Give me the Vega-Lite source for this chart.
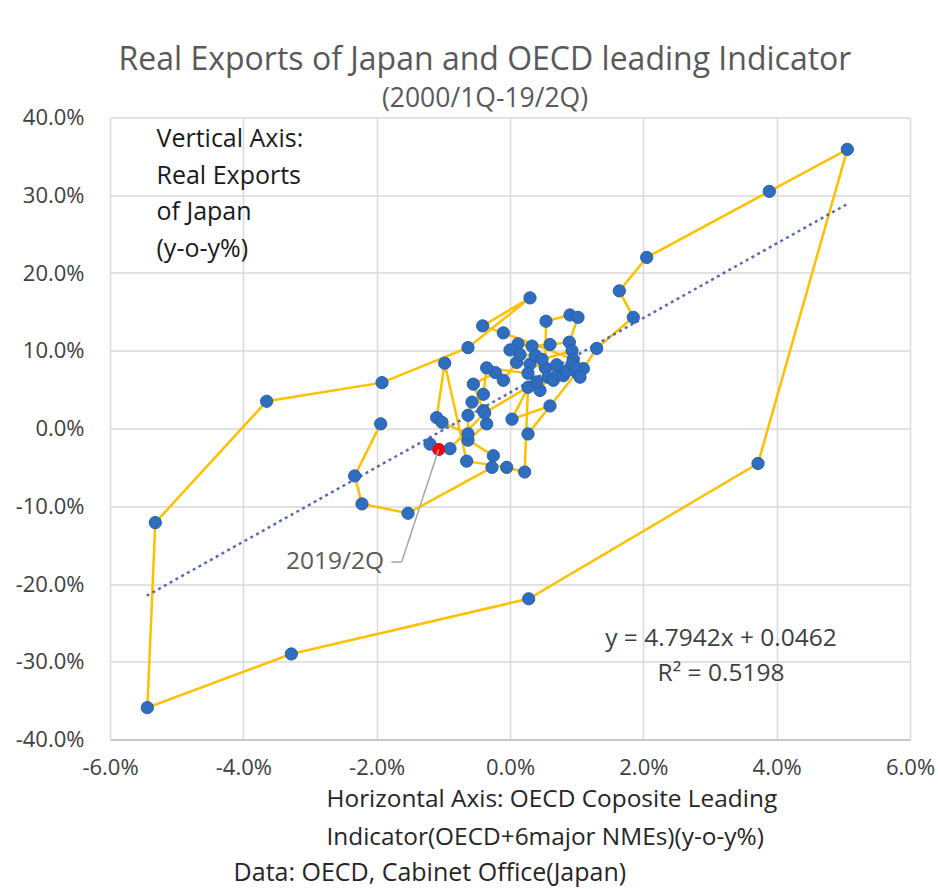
{
  "$schema": "https://vega.github.io/schema/vega-lite/v6.json",
  "width": 800,
  "height": 622,
  "autosize": {"type": "none"},
  "padding": {"left": 110, "top": 117.5, "right": 28, "bottom": 149.5},
  "background": "white",
  "config": {
    "view": {"stroke": null},
    "font": "Open Sans",
    "locale": {"number": {"decimal": ".", "thousands": ",", "grouping": [3], "currency": ["$", ""], "minus": "-"}}
  },
  "title": {
    "text": "Real Exports of Japan and OECD leading Indicator",
    "subtitle": "(2000/1Q-19/2Q)",
    "anchor": "middle",
    "frame": "group",
    "dx": -25,
    "offset": -7,
    "font": "Open Sans",
    "fontSize": 32,
    "fontWeight": "normal",
    "color": "#595959",
    "subtitleFont": "Open Sans",
    "subtitleFontSize": 26.5,
    "subtitleColor": "#595959",
    "subtitlePadding": 9
  },
  "datasets": {
    "quarters": [
      {"q": "2000Q1", "cli": -0.0194, "exports": 0.006},
      {"q": "2000Q2", "cli": -0.0233, "exports": -0.061},
      {"q": "2000Q3", "cli": -0.0222, "exports": -0.097},
      {"q": "2000Q4", "cli": -0.0153, "exports": -0.109},
      {"q": "2001Q1", "cli": -0.0027, "exports": -0.050},
      {"q": "2001Q2", "cli": -0.0025, "exports": -0.035},
      {"q": "2001Q3", "cli": -0.0063, "exports": -0.015},
      {"q": "2001Q4", "cli": -0.0035, "exports": 0.006},
      {"q": "2002Q1", "cli": -0.0040, "exports": 0.023},
      {"q": "2002Q2", "cli": -0.0055, "exports": 0.057},
      {"q": "2002Q3", "cli": -0.0022, "exports": 0.072},
      {"q": "2002Q4", "cli": -0.0010, "exports": 0.062},
      {"q": "2003Q1", "cli": 0.0010, "exports": 0.085},
      {"q": "2003Q2", "cli": 0.0030, "exports": 0.083},
      {"q": "2003Q3", "cli": 0.0053, "exports": 0.078},
      {"q": "2003Q4", "cli": 0.0054, "exports": 0.138},
      {"q": "2004Q1", "cli": 0.0090, "exports": 0.146},
      {"q": "2004Q2", "cli": 0.0102, "exports": 0.143},
      {"q": "2004Q3", "cli": 0.0089, "exports": 0.111},
      {"q": "2004Q4", "cli": 0.0060, "exports": 0.108},
      {"q": "2005Q1", "cli": 0.0033, "exports": 0.106},
      {"q": "2005Q2", "cli": 0.0012, "exports": 0.109},
      {"q": "2005Q3", "cli": 0.0000, "exports": 0.101},
      {"q": "2005Q4", "cli": 0.0015, "exports": 0.095},
      {"q": "2006Q1", "cli": 0.0038, "exports": 0.094},
      {"q": "2006Q2", "cli": 0.0048, "exports": 0.089},
      {"q": "2006Q3", "cli": 0.0093, "exports": 0.100},
      {"q": "2006Q4", "cli": 0.0095, "exports": 0.089},
      {"q": "2007Q1", "cli": -0.0010, "exports": 0.123},
      {"q": "2007Q2", "cli": -0.0041, "exports": 0.132},
      {"q": "2007Q3", "cli": 0.0030, "exports": 0.168},
      {"q": "2007Q4", "cli": -0.0063, "exports": 0.104},
      {"q": "2008Q1", "cli": -0.0192, "exports": 0.059},
      {"q": "2008Q2", "cli": -0.0365, "exports": 0.035},
      {"q": "2008Q3", "cli": -0.0532, "exports": -0.121},
      {"q": "2008Q4", "cli": -0.0544, "exports": -0.359},
      {"q": "2009Q1", "cli": -0.0328, "exports": -0.290},
      {"q": "2009Q2", "cli": 0.0028, "exports": -0.219},
      {"q": "2009Q3", "cli": 0.0372, "exports": -0.045},
      {"q": "2009Q4", "cli": 0.0506, "exports": 0.359},
      {"q": "2010Q1", "cli": 0.0389, "exports": 0.305},
      {"q": "2010Q2", "cli": 0.0205, "exports": 0.220},
      {"q": "2010Q3", "cli": 0.0164, "exports": 0.177},
      {"q": "2010Q4", "cli": 0.0185, "exports": 0.143},
      {"q": "2011Q1", "cli": 0.0130, "exports": 0.103},
      {"q": "2011Q2", "cli": 0.0110, "exports": 0.077},
      {"q": "2011Q3", "cli": 0.0100, "exports": 0.072},
      {"q": "2011Q4", "cli": 0.0027, "exports": -0.007},
      {"q": "2012Q1", "cli": 0.0060, "exports": 0.029},
      {"q": "2012Q2", "cli": 0.0003, "exports": 0.012},
      {"q": "2012Q3", "cli": 0.0027, "exports": 0.053},
      {"q": "2012Q4", "cli": 0.0022, "exports": -0.056},
      {"q": "2013Q1", "cli": -0.0005, "exports": -0.050},
      {"q": "2013Q2", "cli": -0.0065, "exports": -0.042},
      {"q": "2013Q3", "cli": -0.0098, "exports": 0.084},
      {"q": "2013Q4", "cli": -0.0110, "exports": 0.014},
      {"q": "2014Q1", "cli": -0.0102, "exports": 0.008},
      {"q": "2014Q2", "cli": -0.0063, "exports": -0.007},
      {"q": "2014Q3", "cli": -0.0063, "exports": 0.017},
      {"q": "2014Q4", "cli": -0.0057, "exports": 0.034},
      {"q": "2015Q1", "cli": -0.0040, "exports": 0.044},
      {"q": "2015Q2", "cli": -0.0035, "exports": 0.078},
      {"q": "2015Q3", "cli": 0.0027, "exports": 0.071},
      {"q": "2015Q4", "cli": 0.0045, "exports": 0.049},
      {"q": "2016Q1", "cli": 0.0057, "exports": 0.066},
      {"q": "2016Q2", "cli": 0.0065, "exports": 0.062},
      {"q": "2016Q3", "cli": 0.0072, "exports": 0.070},
      {"q": "2016Q4", "cli": 0.0080, "exports": 0.068},
      {"q": "2017Q1", "cli": 0.0085, "exports": 0.074},
      {"q": "2017Q2", "cli": 0.0093, "exports": 0.083},
      {"q": "2017Q3", "cli": 0.0098, "exports": 0.079},
      {"q": "2017Q4", "cli": 0.0105, "exports": 0.066},
      {"q": "2018Q1", "cli": 0.0070, "exports": 0.082},
      {"q": "2018Q2", "cli": 0.0040, "exports": 0.060},
      {"q": "2018Q3", "cli": -0.0038, "exports": 0.020},
      {"q": "2018Q4", "cli": -0.0090, "exports": -0.026},
      {"q": "2019Q1", "cli": -0.0120, "exports": -0.020},
      {"q": "2019Q2", "cli": -0.0107, "exports": -0.027}
    ],
    "trend": [
      {"cli": -0.0545, "exports": -0.2151},
      {"cli": 0.0505, "exports": 0.2883}
    ],
    "note": [{}]
  },
  "layer": [
    {
      "data": {"name": "quarters"},
      "mark": {"type": "line", "color": "#FFC000", "strokeWidth": 2.5},
      "encoding": {
        "x": {
          "field": "cli", "type": "quantitative",
          "scale": {"domain": [-0.06, 0.06], "nice": false, "zero": false},
          "axis": {
            "values": [-0.06, -0.04, -0.02, 0, 0.02, 0.04, 0.06],
            "format": ".1%",
            "grid": true, "gridColor": "#D9D9D9", "gridWidth": 1.5,
            "domain": true, "domainColor": "#BFBFBF", "domainWidth": 1.5,
            "ticks": false,
            "labelFont": "Open Sans", "labelFontSize": 22, "labelColor": "#404040",
            "labelPadding": 18, "labelFlush": false, "labelOverlap": false,
            "title": ["Horizontal Axis: OECD Coposite Leading", "Indicator(OECD+6major NMEs)(y-o-y%)"],
            "titleFont": "Open Sans", "titleFontSize": 24.4, "titleFontWeight": "normal", "titleColor": "#262626",
            "titleAlign": "left", "titleBaseline": "alphabetic", "titleAnchor": "start",
            "titleX": 216, "titleY": 67, "titleLineHeight": 37.5
          }
        },
        "y": {
          "field": "exports", "type": "quantitative",
          "scale": {"domain": [-0.4, 0.4], "nice": false, "zero": false},
          "axis": {
            "values": [-0.4, -0.3, -0.2, -0.1, 0, 0.1, 0.2, 0.3, 0.4],
            "format": ".1%",
            "grid": true, "gridColor": "#D9D9D9", "gridWidth": 1.5,
            "domain": false, "ticks": false,
            "labelFont": "Open Sans", "labelFontSize": 22, "labelColor": "#404040",
            "labelPadding": 26, "labelFlush": false, "labelOverlap": false,
            "title": ["Vertical Axis:", "Real Exports", "of Japan", "(y-o-y%)"],
            "titleFont": "Open Sans", "titleFontSize": 25, "titleFontWeight": "normal", "titleColor": "#1A1A1A",
            "titleAngle": 0, "titleAlign": "left", "titleBaseline": "alphabetic",
            "titleX": 46, "titleY": 29, "titleLineHeight": 36.7
          }
        },
        "order": {"field": "q", "type": "ordinal"}
      }
    },
    {
      "data": {"name": "trend"},
      "mark": {"type": "line", "color": "#5A6AAE", "strokeWidth": 2.5, "strokeDash": [3, 3.6]},
      "encoding": {
        "x": {"field": "cli", "type": "quantitative"},
        "y": {"field": "exports", "type": "quantitative"}
      }
    },
    {
      "data": {"name": "quarters"},
      "mark": {"type": "circle", "size": 150, "color": "#2E6DBF", "stroke": "#2760A8", "strokeWidth": 1, "opacity": 1},
      "encoding": {
        "x": {"field": "cli", "type": "quantitative"},
        "y": {"field": "exports", "type": "quantitative"}
      }
    },
    {
      "data": {"name": "quarters"},
      "transform": [{"filter": "datum.q === '2019Q2'"}],
      "mark": {"type": "circle", "size": 150, "color": "#FF0000", "opacity": 1},
      "encoding": {
        "x": {"field": "cli", "type": "quantitative"},
        "y": {"field": "exports", "type": "quantitative"}
      }
    },
    {
      "data": {"name": "note"},
      "mark": {"type": "rule", "color": "#A6A6A6", "strokeWidth": 1.5},
      "encoding": {
        "x": {"datum": -0.0178, "type": "quantitative"},
        "x2": {"datum": -0.01625},
        "y": {"datum": -0.1717, "type": "quantitative"}
      }
    },
    {
      "data": {"name": "note"},
      "mark": {"type": "rule", "color": "#A6A6A6", "strokeWidth": 1.5},
      "encoding": {
        "x": {"datum": -0.01625, "type": "quantitative"},
        "x2": {"datum": -0.0107},
        "y": {"datum": -0.1717, "type": "quantitative"},
        "y2": {"datum": -0.027}
      }
    },
    {
      "data": {"name": "note"},
      "mark": {"type": "text", "align": "right", "baseline": "middle", "font": "Open Sans", "fontSize": 24.5, "color": "#595959"},
      "encoding": {
        "x": {"datum": -0.0189, "type": "quantitative"},
        "y": {"datum": -0.1717, "type": "quantitative"},
        "text": {"value": "2019/2Q"}
      }
    },
    {
      "data": {"name": "note"},
      "mark": {"type": "text", "align": "center", "baseline": "alphabetic", "font": "Open Sans", "fontSize": 24.5, "color": "#404040", "lineHeight": 35},
      "encoding": {
        "x": {"datum": 0.03165, "type": "quantitative"},
        "y": {"datum": -0.2798, "type": "quantitative"},
        "text": {"value": ["y = 4.7942x + 0.0462", "R² = 0.5198"]}
      }
    },
    {
      "data": {"name": "note"},
      "mark": {"type": "text", "align": "left", "baseline": "alphabetic", "font": "Open Sans", "fontSize": 25, "color": "#262626"},
      "encoding": {
        "x": {"datum": -0.04146, "type": "quantitative"},
        "y": {"datum": -0.5826, "type": "quantitative"},
        "text": {"value": "Data: OECD, Cabinet Office(Japan)"}
      }
    }
  ]
}
